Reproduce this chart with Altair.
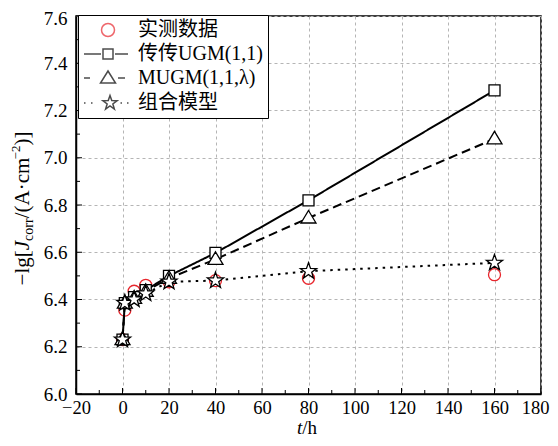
import math
import altair as alt
import pandas as pd

# ---------------- data ----------------
t_hours = [0, 1, 5, 10, 20, 40, 80, 160]
measured = [6.23, 6.355, 6.435, 6.46, 6.475, 6.48, 6.49, 6.505]
traditional_ugm = [6.23, 6.385, 6.41, 6.44, 6.50, 6.597, 6.82, 7.285]
mugm = [6.23, 6.385, 6.405, 6.435, 6.49, 6.57, 6.745, 7.08]
combined = [6.23, 6.385, 6.40, 6.425, 6.475, 6.48, 6.52, 6.555]

series_names = ["实测数据", "传传UGM(1,1)", "MUGM(1,1,λ)", "组合模型"]
model_names = series_names[1:]

x_major = [-20, 0, 20, 40, 60, 80, 100, 120, 140, 160, 180]
x_minor = [-10, 10, 30, 50, 70, 90, 110, 130, 150, 170]
y_major = [6.0, 6.2, 6.4, 6.6, 6.8, 7.0, 7.2, 7.4, 7.6]
y_minor = [6.1, 6.3, 6.5, 6.7, 6.9, 7.1, 7.3, 7.5]

# ---------------- style ----------------
W, H = 465, 378
FONT = "Liberation Serif, Times New Roman, Noto Sans CJK SC, serif"
RED = "#e8262d"
U = 5.0  # px per custom-path unit at size 100


def f(v):
    return f"{v / U:.3f}"


def poly(pts):
    return "M" + "L".join(f"{f(x)},{f(y)}" for x, y in pts) + "Z"


def seg(x0, x1):
    return f"M{f(x0)},0H{f(x1)}"


def circ(cx, r):
    return (f"M{f(cx - r)},0A{f(r)},{f(r)},0,1,0,{f(cx + r)},0"
            f"A{f(r)},{f(r)},0,1,0,{f(cx - r)},0Z")


def star(cx, R, r):
    pts = []
    for k in range(10):
        a = math.radians(-90 + 36 * k)
        rad = R if k % 2 == 0 else r
        pts.append((cx + rad * math.cos(a), rad * math.sin(a)))
    return poly(pts)


circle_path = circ(0, 6)
square_path = poly([(-5.5, -5.5), (5.5, -5.5), (5.5, 5.5), (-5.5, 5.5)])
tri_path = poly([(0, -7.5), (7.5, 5), (-7.5, 5)])
star_path = star(0, 8.5, 3.4)

leg_paths = [
    circ(15, 6.5),
    seg(-9, 8) + poly([(10, -5), (20, -5), (20, 5), (10, 5)]) + seg(22, 35),
    seg(-9, -3) + poly([(15, -7), (22.5, 5), (7.5, 5)]) + seg(25, 32),
    seg(-9, -7.5) + seg(-2, -0.5) + star(17, 7.5, 3) + seg(27.5, 29) + seg(34, 35.5),
]

# ---------------- tables ----------------
obs_df = pd.DataFrame({"t": t_hours, "v": measured})
mod_rows = []
for name, vals in zip(model_names, [traditional_ugm, mugm, combined]):
    for tt, vv in zip(t_hours, vals):
        mod_rows.append({"series": name, "t": tt, "v": vv})
mod_df = pd.DataFrame(mod_rows)
leg_df = pd.DataFrame({"series": series_names, "t": [0] * 4, "v": [6.0] * 4})

xs = alt.Scale(domain=[-20, 180], nice=False, zero=False)
ys = alt.Scale(domain=[6.0, 7.6], nice=False, zero=False)
xaxis = alt.Axis(values=x_major, title=None, grid=True, gridDash=[3, 3],
                 gridColor="#b5b5b5", gridWidth=1, ticks=False,
                 labelFont=FONT, labelFontSize=18.5, labelColor="black",
                 labelPadding=4, domainColor="black", domainWidth=1.5,
                 format="d", labelFlush=False,
                 labelOffset={"condition": {"test": "datum.value == 180", "value": -6},
                              "value": 0})
yaxis = alt.Axis(values=y_major, title=None, grid=True, gridDash=[3, 3],
                 gridColor="#b5b5b5", gridWidth=1, ticks=False,
                 labelFont=FONT, labelFontSize=19, labelColor="black",
                 labelPadding=9, domainColor="black", domainWidth=1.5,
                 format=".1f", labelFlush=False,
                 labelOffset={"condition": {"test": "datum.value == 7.6", "value": 2},
                              "value": 0})
X = alt.X("t:Q", scale=xs, axis=xaxis)
Y = alt.Y("v:Q", scale=ys, axis=yaxis)

obs_layer = alt.Chart(obs_df).mark_point(
    shape=circle_path, size=100, filled=False, color=RED, strokeWidth=1.3,
    opacity=1).encode(x=X, y=Y)

line_layer = alt.Chart(mod_df).mark_line(color="black", strokeWidth=2).encode(
    x=X, y=Y,
    strokeDash=alt.StrokeDash("series:N", scale=alt.Scale(
        domain=model_names, range=[[1, 0], [9, 5], [2.5, 5]]), legend=None),
)

marker_layer = alt.Chart(mod_df).mark_point(
    filled=True, fill="white", stroke="black", strokeWidth=1.3, size=100,
    opacity=1).encode(
    x=X, y=Y,
    shape=alt.Shape("series:N", scale=alt.Scale(
        domain=model_names, range=[square_path, tri_path, star_path]), legend=None),
)

legend = alt.Legend(
    orient="none", legendX=2, legendY=-1, title=None, symbolSize=100,
    symbolStrokeWidth=1.5, labelFont=FONT, labelFontSize=20,
    labelColor="black", labelOffset=35, padding=5, rowPadding=4,
    strokeColor="black", fillColor="white", labelLimit=300,
    labelExpr="datum.label + '       '")
legend_layer = alt.Chart(leg_df).transform_filter("false").mark_point(
    filled=False, size=100, strokeWidth=1.5).encode(
    x=X, y=Y,
    shape=alt.Shape("series:N", scale=alt.Scale(domain=series_names, range=leg_paths),
                    legend=legend),
    color=alt.Color("series:N", scale=alt.Scale(
        domain=series_names, range=[RED, "black", "black", "black"]), legend=legend),
)

XT = alt.X("v:Q", scale=xs, axis=xaxis)
YT = alt.Y("v:Q", scale=ys, axis=yaxis)
xt_major = alt.Chart(pd.DataFrame({"v": x_major})).mark_rule(
    color="black", strokeWidth=1).encode(x=XT, y=alt.value(H), y2=alt.value(H - 6))
xt_minor = alt.Chart(pd.DataFrame({"v": x_minor})).mark_rule(
    color="black", strokeWidth=1).encode(x=XT, y=alt.value(H), y2=alt.value(H - 4))
yt_major = alt.Chart(pd.DataFrame({"v": y_major})).mark_rule(
    color="black", strokeWidth=1).encode(y=YT, x=alt.value(0), x2=alt.value(6))
yt_minor = alt.Chart(pd.DataFrame({"v": y_minor})).mark_rule(
    color="black", strokeWidth=1).encode(y=YT, x=alt.value(0), x2=alt.value(4))

# ---------------- axis titles as text pieces ----------------
one = pd.DataFrame({"k": [0]})
CW = {"−": 0.564, "l": 0.278, "g": 0.5, "[": 0.333, "J": 0.444, "c": 0.444,
      "o": 0.5, "r": 0.333, "/": 0.278, "(": 0.333, "A": 0.722, "·": 0.25,
      "m": 0.778, "2": 0.5, ")": 0.333, "]": 0.333, "t": 0.278, "h": 0.5}


def tw(s, size):
    return sum(CW.get(c, 0.5) for c in s) * size


BIG, SMALL = 21, 14
pieces = [("−lg[", BIG, "normal", 0), ("J", BIG, "italic", 0),
          ("corr", SMALL, "normal", 6), ("/(A·cm", BIG, "normal", 0),
          ("−2", 13, "normal", -7.5), (")]", BIG, "normal", 0)]
total = sum(tw(s, sz) for s, sz, _, _ in pieces)
yc, xc = 192.5, -53
pos = yc + total / 2
title_layers = []
for s, sz, st, dx in pieces:
    title_layers.append(alt.Chart(one).mark_text(
        angle=270, align="left", baseline="middle", font=FONT, fontSize=sz,
        fontStyle=st, color="black").encode(
        x=alt.value(xc + dx), y=alt.value(pos), text=alt.value(s)))
    pos -= tw(s, sz)

XT_SIZE = 19
xt_total = tw("t", XT_SIZE) + tw("/h", XT_SIZE)
x0 = 231 - xt_total / 2
title_layers.append(alt.Chart(one).mark_text(
    align="left", baseline="alphabetic", font=FONT, fontSize=XT_SIZE,
    fontStyle="italic", color="black").encode(
    x=alt.value(x0), y=alt.value(417.5), text=alt.value("t")))
title_layers.append(alt.Chart(one).mark_text(
    align="left", baseline="alphabetic", font=FONT, fontSize=XT_SIZE,
    color="black").encode(
    x=alt.value(x0 + tw("t", XT_SIZE)), y=alt.value(417.5), text=alt.value("/h")))

chart = alt.layer(
    xt_major, xt_minor, yt_major, yt_minor,
    obs_layer, line_layer, marker_layer, legend_layer, *title_layers,
).resolve_scale(shape="independent", color="independent").properties(
    width=W, height=H,
    autosize=alt.AutoSizeParams(type="none"),
    padding={"left": 68, "top": 8, "right": 9, "bottom": 44},
).configure_view(stroke="black", strokeWidth=1.5)

chart.save("out.html", embed_options={"renderer": "svg", "actions": False})
